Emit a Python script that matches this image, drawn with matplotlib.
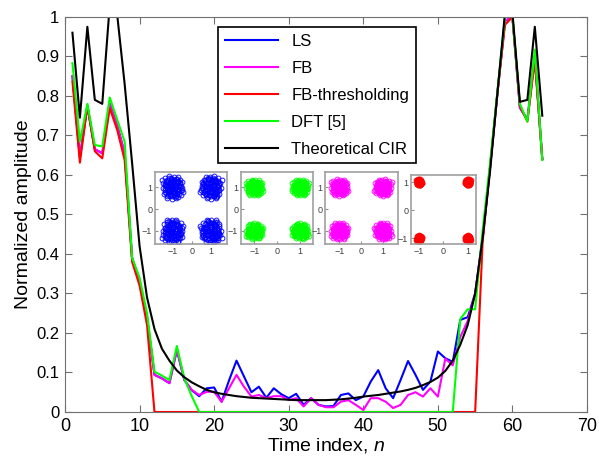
import matplotlib
matplotlib.use('Agg')
import matplotlib.pyplot as plt
import numpy as np

plt.rcParams['font.family'] = ['Liberation Sans', 'DejaVu Sans']
plt.rcParams['mathtext.fontset'] = 'custom'
plt.rcParams['mathtext.rm'] = 'Liberation Sans'
plt.rcParams['mathtext.it'] = 'Liberation Sans:italic'

# time index
n = np.arange(1, 65)

# estimated channel impulse responses (normalized amplitude), n = 1..64
ls = [0.85, 0.645, 0.775, 0.665, 0.655, 0.78, 0.725, 0.655, 0.39, 0.33,
      0.24, 0.094, 0.085, 0.073, 0.157, 0.081, 0.055, 0.04, 0.06, 0.062,
      0.026, 0.08, 0.13, 0.09, 0.05, 0.064, 0.036, 0.06, 0.045, 0.035,
      0.046, 0.018, 0.035, 0.018, 0.014, 0.015, 0.043, 0.047, 0.03, 0.039,
      0.077, 0.106, 0.06, 0.035, 0.081, 0.129, 0.094, 0.056, 0.077, 0.153,
      0.136, 0.127, 0.233, 0.24, 0.30, 0.44, 0.62, 0.81, 0.99, 1.0,
      0.77, 0.74, 0.90, 0.64]
fb = [0.85, 0.645, 0.775, 0.665, 0.655, 0.78, 0.725, 0.655, 0.39, 0.33,
      0.24, 0.094, 0.085, 0.073, 0.157, 0.081, 0.056, 0.043, 0.051, 0.051,
      0.026, 0.06, 0.094, 0.064, 0.039, 0.043, 0.035, 0.04, 0.04, 0.03,
      0.035, 0.014, 0.035, 0.018, 0.012, 0.012, 0.026, 0.03, 0.018, 0.005,
      0.035, 0.035, 0.026, 0.01, 0.018, 0.043, 0.05, 0.039, 0.06, 0.039,
      0.135, 0.118, 0.19, 0.23, 0.30, 0.44, 0.62, 0.81, 0.99, 1.0,
      0.77, 0.74, 0.90, 0.64]
fb_thr = [0.836, 0.631, 0.775, 0.66, 0.642, 0.769, 0.714, 0.638, 0.38, 0.32,
          0.22, 0, 0, 0, 0, 0, 0, 0, 0, 0,
          0, 0, 0, 0, 0, 0, 0, 0, 0, 0,
          0, 0, 0, 0, 0, 0, 0, 0, 0, 0,
          0, 0, 0, 0, 0, 0, 0, 0, 0, 0,
          0, 0, 0, 0, 0, 0.43, 0.62, 0.81, 0.98, 1.0,
          0.775, 0.735, 0.89, 0.64]
dft = [0.883, 0.684, 0.78, 0.676, 0.672, 0.796, 0.74, 0.684, 0.39, 0.34,
       0.25, 0.102, 0.092, 0.081, 0.167, 0.085, 0.04, 0, 0, 0,
       0, 0, 0, 0, 0, 0, 0, 0, 0, 0,
       0, 0, 0, 0, 0, 0, 0, 0, 0, 0,
       0, 0, 0, 0, 0, 0, 0, 0, 0, 0,
       0, 0, 0.235, 0.26, 0.26, 0.46, 0.63, 0.815, 1.0, 1.0,
       0.78, 0.735, 0.917, 0.638]
cir = [0.96, 0.745, 0.975, 0.79, 0.78, 1.03, 1.005, 0.83, 0.63, 0.42,
       0.29, 0.21, 0.16, 0.13, 0.105, 0.088, 0.075, 0.065, 0.056, 0.05,
       0.046, 0.043, 0.04, 0.038, 0.036, 0.035, 0.034, 0.033, 0.032, 0.031,
       0.03, 0.03, 0.03, 0.03, 0.03, 0.031, 0.032, 0.034, 0.036, 0.039,
       0.041, 0.043, 0.046, 0.049, 0.052, 0.056, 0.061, 0.068, 0.076, 0.087,
       0.104, 0.13, 0.17, 0.22, 0.30, 0.44, 0.61, 0.81, 1.01, 1.01,
       0.785, 0.79, 0.975, 0.75]

labels = ['LS', 'FB', 'FB-thresholding', 'DFT [5]', 'Theoretical CIR']
colors = ['#0000ff', '#ff00ff', '#ff0000', '#00ff00', '#000000']

# QPSK constellation points and noise offsets
const_i = [-1, 1, -1, 1]
const_q = [1, 1, -1, -1]
off_x = [0.12, -0.41, 0.27, -0.05, 0.38, -0.22, 0.05, -0.33, 0.18, 0.44,
         -0.12, 0.29, -0.46, 0.08, -0.18, 0.35, -0.28, 0.15, -0.38, 0.22,
         -0.02, 0.47, -0.15, 0.02, -0.45, 0.31, -0.08, 0.2, -0.3, 0.1,
         0.4, -0.24, -0.1, 0.25, -0.36, 0.06, 0.33, -0.2, 0.14, -0.42,
         0.0, 0.37, -0.13, 0.21, -0.27, 0.5, -0.5, 0.1]
off_y = [-0.35, 0.08, 0.22, 0.44, -0.12, -0.28, 0.02, 0.31, -0.08, 0.18,
         0.15, -0.37, -0.12, 0.29, -0.45, 0.38, 0.02, 0.47, -0.33, -0.2,
         -0.18, -0.02, 0.36, -0.48, 0.25, 0.05, -0.32, 0.33, -0.15, 0.12,
         -0.28, 0.45, 0.0, -0.45, 0.18, -0.1, 0.28, -0.08, -0.26, -0.02,
         0.2, 0.1, -0.4, 0.08, 0.24, 0.3, -0.2, 0.4]
# inset order: LS, DFT, FB, FB-thresholding
inset_colors = ['#0000ff', '#00ff00', '#ff00ff', '#ff0000']
inset_spread = [1.1, 0.75, 0.8, 0.22]

fig = plt.figure(figsize=(5.99, 4.57), dpi=100)
ax = fig.add_axes([0.1085, 0.0985, 0.8715, 0.8645])

series = [ls, fb, fb_thr, dft, cir]
for vals, lab, col in zip(series, labels, colors):
    ax.plot(n, vals, color=col, lw=1.5, label=lab)

ax.set_xlim(0, 70)
ax.set_ylim(0, 1)
ax.set_xticks(np.arange(0, 71, 10))
ax.set_yticks(np.arange(0, 1.01, 0.1))
ax.set_yticklabels(['0', '0.1', '0.2', '0.3', '0.4', '0.5', '0.6', '0.7', '0.8', '0.9', '1'])
ax.tick_params(direction='in', top=True, right=True, length=5, color='#707070')
ax.tick_params(axis='x', labelsize=13, pad=4)
ax.tick_params(axis='y', labelsize=12, pad=4)
for s in ax.spines.values():
    s.set_color('#707070')
ax.set_xlabel('Time index, $n$', fontsize=14, labelpad=1)
ax.set_ylabel('Normalized amplitude', fontsize=14, labelpad=3)

leg = ax.legend(loc='upper left', bbox_to_anchor=(0.364, 0.941), bbox_transform=fig.transFigure,
                fontsize=12, fancybox=False, framealpha=1, edgecolor='black',
                handlelength=3.2, labelspacing=0.72, borderaxespad=0, borderpad=0.4)
leg.get_frame().set_linewidth(1.2)

# constellation insets
inset_pos = [[0.2588, 0.466, 0.120, 0.158],
             [0.4023, 0.466, 0.120, 0.158],
             [0.5426, 0.466, 0.122, 0.158],
             [0.6861, 0.466, 0.1085, 0.151]]
inset_xlim = [(-1.92, 1.83), (-1.59, 1.56), (-1.66, 1.7), (-1.33, 1.33)]
inset_ylim = [(-1.6, 1.72), (-1.6, 1.72), (-1.6, 1.72), (-1.2, 1.25)]
for pos, col, spr, xl, yl in zip(inset_pos, inset_colors, inset_spread, inset_xlim, inset_ylim):
    a = fig.add_axes(pos)
    for ci, cq in zip(const_i, const_q):
        # two passes over the offset table (second one transposed) to fill the cloud
        xs = [ci + spr * dx * ci for dx in off_x] + [ci + 0.8 * spr * dy for dy in off_y]
        ys = [cq + spr * dy * cq for dy in off_y] + [cq - 0.8 * spr * dx for dx in off_x]
        a.plot(xs, ys, 'o', mfc='none', mec=col, ms=3.5, mew=0.6)
    a.set_xlim(*xl)
    a.set_ylim(*yl)
    a.set_xticks([-1, 0, 1])
    a.set_yticks([-1, 0, 1])
    a.tick_params(direction='in', length=2, labelsize=6.5, pad=2, color='#909090', labelcolor='#404040')
    for s in a.spines.values():
        s.set_color('#a0a0a0')
        s.set_linewidth(1.2)

fig.savefig('out.png', dpi=100)
